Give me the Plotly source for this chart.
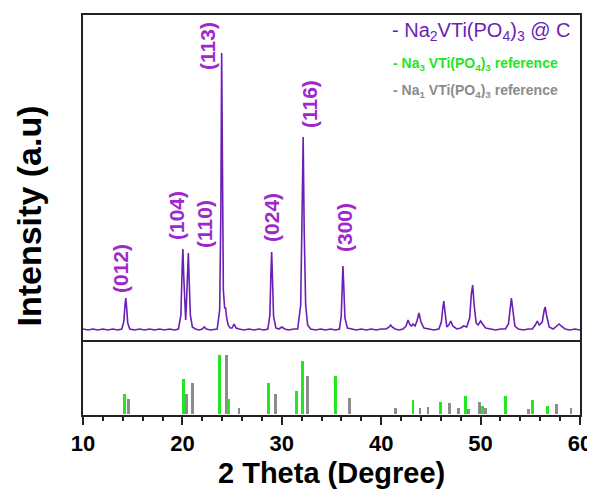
import plotly.graph_objects as go
from plotly.subplots import make_subplots

# ---------------- data ----------------
# measured XRD profile of Na2VTi(PO4)3 @ C (2theta, intensity in arbitrary units)
two_theta = [
    10.0, 10.5, 11.0, 11.5, 12.0, 12.5, 13.0, 13.5, 13.9,
    14.1, 14.22, 14.3, 14.38, 14.5, 14.7,
    15.2, 15.7, 16.2, 16.7, 17.2, 17.7, 18.2, 18.7, 19.2, 19.6,
    19.85, 19.97, 20.05, 20.13, 20.25, 20.33, 20.42, 20.52, 20.6, 20.68, 20.8, 21.0, 21.3,
    21.7, 22.0, 22.2, 22.4, 22.8, 23.2, 23.5,
    23.75, 23.87, 23.95, 24.03, 24.12, 24.25, 24.35, 24.45, 24.6, 24.8, 25.0, 25.2, 25.4, 25.7,
    26.2, 26.7, 27.2, 27.7, 28.2, 28.6,
    28.8, 28.9, 28.98, 29.06, 29.17, 29.4, 29.7, 30.0, 30.3, 30.7, 31.2, 31.6,
    31.9, 32.03, 32.15, 32.25, 32.4, 32.6, 32.9,
    33.4, 33.9, 34.4, 34.9, 35.4, 35.8,
    35.98, 36.08, 36.15, 36.23, 36.35, 36.6, 37.0,
    37.5, 38.0, 38.5, 39.0, 39.5, 40.0, 40.5,
    40.8, 40.95, 41.1, 41.4, 41.8, 42.2, 42.5, 42.7, 42.9, 43.05, 43.2, 43.4, 43.6, 43.8, 44.0, 44.3, 44.8, 45.3, 45.8,
    46.05, 46.2, 46.3, 46.42, 46.6, 46.8, 47.0, 47.2, 47.6, 48.0, 48.3, 48.6, 48.9, 49.07, 49.2, 49.35, 49.55, 49.75, 50.0, 50.2, 50.5, 51.0, 51.5, 52.0, 52.5,
    52.8, 52.98, 53.1, 53.22, 53.45, 53.8, 54.3, 54.8, 55.2, 55.5, 55.7, 55.9, 56.2, 56.4, 56.5, 56.65, 56.9, 57.3, 57.7, 57.9, 58.1, 58.5, 59.0, 59.5, 60.0,
]
intensity = [
    1, 0, 1, 0, 1, 0, 1, 0, 1,
    8, 24, 32, 24, 7, 1,
    0, 1, 0, 1, 0, 1, 0, 1, 0, 1,
    15, 60, 81, 55, 18, 10, 30, 68, 77, 50, 15, 3, 1,
    0, 1, 3, 1, 0, 1, 1,
    20, 120, 277, 130, 40, 22, 22, 12, 5, 2, 2, 6, 2, 1,
    0, 1, 0, 1, 0, 1,
    15, 55, 78, 52, 14, 2, 1, 3, 1, 0, 1, 1,
    25, 110, 193, 100, 25, 5, 1,
    0, 1, 0, 1, 0, 1,
    14, 48, 64, 45, 12, 2, 1,
    0, 1, 0, 1, 0, 1, 1,
    3, 5, 3, 1, 0, 1, 4, 10, 5, 4, 6, 4, 9, 17, 8, 2, 1, 0, 1,
    8, 22, 29, 18, 3, 5, 9, 4, 1, 2, 4, 3, 12, 36, 45, 25, 7, 5, 9, 6, 2, 1, 0, 1, 1,
    6, 24, 32, 22, 4, 1, 0, 1, 1, 5, 9, 5, 8, 20, 23, 14, 3, 1, 4, 6, 4, 1, 0, 1, 0,
]

# reference stick patterns
na3_pos = [14.2, 20.1, 23.7, 24.6, 28.7, 31.5, 32.1, 35.4, 43.2, 46.0, 48.5, 50.2, 52.5, 55.2, 56.75]
na3_int = [19.7, 34.7, 59, 14.7, 30.7, 23.3, 53.3, 38.3, 14, 12, 18, 8, 18, 14, 7.7]
na1_pos = [14.6, 20.4, 21.0, 24.4, 25.7, 29.4, 32.6, 36.8, 41.4, 43.9, 44.7, 46.9, 47.8, 48.8, 49.9, 50.5, 54.8, 57.6, 59.1]
na1_int = [15, 20, 30.7, 59, 6.3, 20, 38.3, 15.7, 5.7, 5.7, 6.7, 10.7, 6, 5, 11.7, 6.3, 5, 9.7, 6]

# hkl labels
hkl_labels = ["(012)", "(104)", "(110)", "(113)", "(024)", "(116)", "(300)"]
hkl_label_x = [13.72, 19.36, 22.17, 22.47, 28.91, 32.74, 36.26]
hkl_label_y = [62, 114, 106, 284, 113, 226, 102]

x_ticks = [10, 20, 30, 40, 50, 60]

# ---------------- styles ----------------
LINE_COLOR = "#6A1FB5"
LABEL_COLOR = "#9F28CC"
GREEN = "#22E622"
GRAY = "#8C8C8C"
FONT = "Liberation Sans"
PAGE_OFFSET = 8  # default body margin of the html page

fig = make_subplots(rows=2, cols=1, shared_xaxes=True, vertical_spacing=0,
                    row_heights=[0.8125, 0.1875])

fig.add_trace(go.Scatter(x=two_theta, y=intensity, mode="lines",
                         line=dict(color=LINE_COLOR, width=1.6),
                         showlegend=False, hoverinfo="skip"), row=1, col=1)

fig.add_trace(go.Bar(x=na1_pos, y=na1_int, width=0.28, marker=dict(color=GRAY, line=dict(width=0)),
                     showlegend=False), row=2, col=1)
fig.add_trace(go.Bar(x=na3_pos, y=na3_int, width=0.28, marker=dict(color=GREEN, line=dict(width=0)),
                     showlegend=False), row=2, col=1)

axis_common = dict(showline=True, linecolor="#222222", linewidth=2,
                   showgrid=False, zeroline=False)

fig.update_xaxes(range=[10, 60], **axis_common)
fig.update_xaxes(showticklabels=False, ticks="", mirror=True, row=1, col=1)
fig.update_xaxes(row=2, col=1, mirror=False, ticks="outside", ticklen=8, tickwidth=2, tickcolor="#222222",
                 tickvals=x_ticks, ticktext=[str(v) for v in x_ticks],
                 tickfont=dict(family=FONT, size=22, color="black", weight="bold"),
                 minor=dict(dtick=2, ticks="outside", ticklen=4, tickwidth=1.5, tickcolor="#222222"))
fig.update_yaxes(showticklabels=False, ticks="", mirror=True, **axis_common)
fig.update_yaxes(range=[-10, 315], row=1, col=1)
fig.update_yaxes(range=[-1, 74], row=2, col=1)

annotations = []
for txt, lx, ly in zip(hkl_labels, hkl_label_x, hkl_label_y):
    annotations.append(dict(x=lx, y=ly, xref="x", yref="y", text=txt, textangle=-90,
                            showarrow=False, xanchor="center", yanchor="middle",
                            font=dict(family=FONT, size=21, color=LABEL_COLOR, weight="bold")))

annotations += [
    dict(x=(573 - 83) / 497, y=(415 - 32) / 400, xref="paper", yref="paper",
         text="- Na<sub>2</sub>VTi(PO<sub>4</sub>)<sub>3</sub> @ C", showarrow=False,
         xanchor="right", yanchor="middle", font=dict(family=FONT, size=20, color=LINE_COLOR)),
    dict(x=(391 - 83) / 497, y=(415 - 64) / 400, xref="paper", yref="paper",
         text="- Na<sub>3</sub> VTi(PO<sub>4</sub>)<sub>3</sub> reference", showarrow=False,
         xanchor="left", yanchor="middle", font=dict(family=FONT, size=14, color=GREEN, weight="bold")),
    dict(x=(391 - 83) / 497, y=(415 - 91) / 400, xref="paper", yref="paper",
         text="- Na<sub>1</sub> VTi(PO<sub>4</sub>)<sub>3</sub> reference", showarrow=False,
         xanchor="left", yanchor="middle", font=dict(family=FONT, size=14, color=GRAY, weight="bold")),
    dict(x=(331 - 83) / 497, y=(415 - 473) / 400, xref="paper", yref="paper",
         text="2 Theta (Degree)", showarrow=False, xanchor="center", yanchor="middle",
         font=dict(family=FONT, size=29, color="black", weight="bold")),
    dict(x=(28.5 - 83) / 497, y=(415 - 216) / 400, xref="paper", yref="paper",
         text="Intensity (a.u)", textangle=-90, showarrow=False, xanchor="center", yanchor="middle",
         font=dict(family=FONT, size=34, color="black", weight="bold")),
]

fig.update_layout(width=595 - PAGE_OFFSET, height=493 - PAGE_OFFSET,
                  margin=dict(l=83 - PAGE_OFFSET, r=15, t=15 - PAGE_OFFSET, b=78, autoexpand=False),
                  paper_bgcolor="white", plot_bgcolor="white", bargap=0, barmode="overlay",
                  annotations=annotations)

fig.write_html("out.html")
